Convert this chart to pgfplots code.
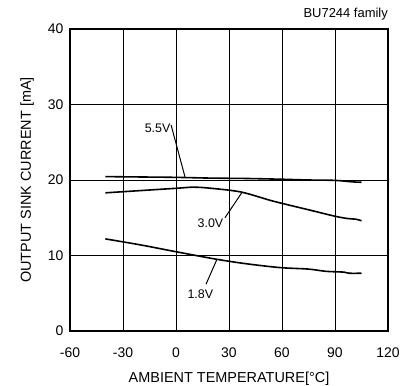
\documentclass[border=0pt]{standalone}
\usepackage{fontspec}
\setmainfont{Liberation Sans}
\usepackage{pgfplots}
\pgfplotsset{compat=1.18}
\begin{document}
\begin{tikzpicture}
\begin{axis}[
  scale only axis,
  width=318bp, height=302bp,
  xmin=-60, xmax=120, ymin=0, ymax=40,
  xtick={-60,-30,0,30,60,90,120},
  ytick={0,10,20,30,40},
  grid=major,
  major grid style={black, line width=0.8pt},
  axis line style={black, line width=1.6pt},
  major tick length=0pt,
  /pgf/number format/assume math mode=true,
  tick label style={font=\fontsize{14}{16}\selectfont},
  xticklabel style={yshift=-13bp},
  yticklabel style={xshift=-3bp},
  xlabel={AMBIENT TEMPERATURE[\textdegree C]},
  ylabel={OUTPUT SINK CURRENT [mA]},
  label style={font=\fontsize{14.5}{16}\selectfont},
  xlabel style={at={(axis description cs:0.5,0)}, anchor=base, inner sep=0pt, yshift=-51bp},
  ylabel style={at={(axis description cs:0,0.5)}, anchor=south, inner sep=0pt, yshift=36bp},
  clip=false,
]
% 5.5V
\addplot[black, line width=1.6pt, smooth] coordinates {
  (-40,20.45) (-20,20.4) (0,20.35) (20,20.25) (40,20.2) (60,20.1) (75,20.0) (90,19.95) (100,19.75) (105,19.7)};
% 3.0V
\addplot[black, line width=1.6pt, smooth] coordinates {
  (-40,18.3) (-20,18.6) (0,18.9) (10,19.05) (20,18.9) (37,18.4) (55,17.2) (76,16.0) (90,15.2) (97,14.9) (102,14.8) (105,14.6)};
% 1.8V
\addplot[black, line width=1.6pt, smooth] coordinates {
  (-40,12.2) (-20,11.4) (0,10.5) (23,9.5) (40,8.9) (58.8,8.4) (75,8.2) (85,7.9) (95,7.8) (98,7.65) (105,7.65)};
% leader lines
\addplot[black, line width=1pt] coordinates {(-2.8,27.3) (5.1,20.4)};
\addplot[black, line width=1pt] coordinates {(27.7,15.0) (37.2,18.3)};
\addplot[black, line width=1pt] coordinates {(17,6.2) (23,9.4)};
\node[anchor=east, font=\fontsize{12.5}{14}\selectfont, inner sep=1bp] at (axis cs:-2.5,26.9) {5.5V};
\node[font=\fontsize{12.5}{14}\selectfont, inner sep=1bp] at (axis cs:19.5,14.3) {3.0V};
\node[font=\fontsize{12.5}{14}\selectfont, inner sep=1bp] at (axis cs:13.8,4.9) {1.8V};
\node[anchor=south east, font=\fontsize{13}{15}\selectfont, inner sep=0pt] at (axis cs:120,41.1) {BU7244 family};
\end{axis}
\path (current axis.south west) ++(-70bp,-55bp) (current axis.north east) ++(23bp,29bp);
\end{tikzpicture}
\end{document}
